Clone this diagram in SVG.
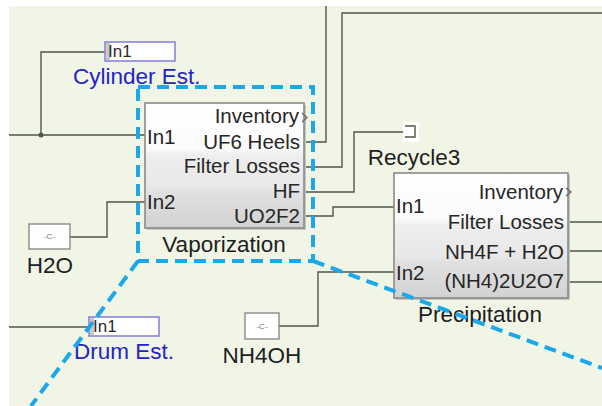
<svg xmlns="http://www.w3.org/2000/svg" width="602" height="406" viewBox="0 0 602 406">
<defs>
<linearGradient id="blk" x1="0" y1="0" x2="0" y2="1">
<stop offset="0" stop-color="#ffffff"/>
<stop offset="0.36" stop-color="#fbfbfb"/>
<stop offset="0.42" stop-color="#eeeeee"/>
<stop offset="0.66" stop-color="#e8e8e8"/>
<stop offset="0.72" stop-color="#e0e0e0"/>
<stop offset="1" stop-color="#d2d2d2"/>
</linearGradient>
<style>
.ln{fill:none;stroke:#50544a;stroke-width:1.4}
.blk{fill:url(#blk);stroke:#8a8a8a;stroke-width:1.6}
.shadow{fill:#c4c8bc}
.port{font-family:"Liberation Sans",Arial,sans-serif;font-size:20.5px;fill:#262626}
.lbl{font-family:"Liberation Sans",Arial,sans-serif;font-size:22.5px;fill:#1e1e1e}
.blue{font-family:"Liberation Sans",Arial,sans-serif;font-size:22.5px;fill:#2424c4}
.inbox{fill:#ffffff;stroke:#8a84d8;stroke-width:1.6}
.intxt{font-family:"Liberation Sans",Arial,sans-serif;font-size:17px;fill:#2a2a2a}
.cbox{fill:#ffffff;stroke:#8a8a8a;stroke-width:1.4}
.ctxt{font-family:"Liberation Sans",Arial,sans-serif;font-size:8px;fill:#777777}
.chev{fill:none;stroke:#666666;stroke-width:1.3}
.dash{fill:none;stroke:#1aa8ea;stroke-width:4;stroke-dasharray:12 7}
</style>
</defs>
<rect x="0" y="0" width="602" height="406" fill="#ffffff"/>
<rect x="9" y="6" width="593" height="400" fill="#f0f5e6"/>

<g id="connectors">
<path class="ln" d="M105,52 H41 V135"/>
<path class="ln" d="M9,135 H145"/>
<circle cx="41" cy="135" r="2.5" fill="#50544a"/>
<path class="ln" d="M70,237 H107 V202 H145"/>
<path class="ln" d="M304,142 H326 V6"/>
<path class="ln" d="M304,167 H342 V13 H602"/>
<path class="ln" d="M304,192 H354 V132 H412"/>
<path class="ln" d="M304,216 H333 V207 H394"/>
<path class="ln" d="M279,326 H318 V272 H394"/>
<path class="ln" d="M9,327 H89"/>
<path class="ln" d="M568,222 H602"/>
<path class="ln" d="M568,251 H602"/>
<path class="ln" d="M568,282 H602"/>
</g>

<g id="cylinder-est">
<rect class="inbox" x="105" y="42" width="70" height="19"/>
<rect x="106" y="43" width="4" height="17" fill="#c8c8c8"/>
<text class="intxt" x="108" y="57">In1</text>
<text class="blue" x="73" y="84">Cylinder Est.</text>
</g>

<g id="h2o">
<rect class="cbox" x="29" y="224" width="41" height="25"/>
<text class="ctxt" x="49.5" y="239" text-anchor="middle">-C-</text>
<text class="lbl" x="50" y="273" text-anchor="middle">H2O</text>
</g>

<g id="vaporization">
<rect class="shadow" x="147" y="105" width="159" height="125"/>
<rect class="blk" x="145" y="103" width="159" height="125"/>
<text class="port" x="147" y="144">In1</text>
<text class="port" x="147" y="209">In2</text>
<text class="port" x="299" y="123" text-anchor="end">Inventory</text>
<path class="chev" d="M302,113 L307,117.5 L302,122"/>
<text class="port" x="300" y="149" text-anchor="end">UF6 Heels</text>
<text class="port" x="300" y="173" text-anchor="end">Filter Losses</text>
<text class="port" x="300" y="198" text-anchor="end">HF</text>
<text class="port" x="300" y="223" text-anchor="end">UO2F2</text>
<text class="lbl" x="224" y="252" text-anchor="middle">Vaporization</text>
</g>

<g id="recycle3">
<rect x="403" y="122" width="16" height="20" fill="#ffffff"/>
<path class="ln" d="M405,126 H415 V137 H405"/>
<text class="lbl" x="414" y="165" text-anchor="middle">Recycle3</text>
</g>

<g id="precipitation">
<rect class="shadow" x="396" y="175" width="174" height="125"/>
<rect class="blk" x="394" y="173" width="174" height="125"/>
<text class="port" x="396" y="213">In1</text>
<text class="port" x="396" y="280">In2</text>
<text class="port" x="563" y="199" text-anchor="end">Inventory</text>
<path class="chev" d="M566,188 L571,192 L566,196"/>
<text class="port" x="564" y="229" text-anchor="end">Filter Losses</text>
<text class="port" x="564" y="259" text-anchor="end">NH4F + H2O</text>
<text class="port" x="564" y="288" text-anchor="end">(NH4)2U2O7</text>
<text class="lbl" x="480" y="322" text-anchor="middle">Precipitation</text>
</g>

<g id="drum-est">
<rect class="inbox" x="89" y="317" width="70" height="19"/>
<rect x="90" y="318" width="4" height="17" fill="#c8c8c8"/>
<text class="intxt" x="93" y="332">In1</text>
<text class="blue" x="124" y="359" text-anchor="middle">Drum Est.</text>
</g>

<g id="nh4oh">
<rect class="cbox" x="245" y="313" width="34" height="26"/>
<text class="ctxt" x="262" y="329" text-anchor="middle">-C-</text>
<text class="lbl" x="262" y="363" text-anchor="middle">NH4OH</text>
</g>

<g id="zoom-callout">
<rect class="dash" x="138" y="87" width="175" height="174"/>
<path class="dash" d="M138,261 L31,406"/>
<path class="dash" d="M313,261 L602,368"/>
</g>
</svg>
